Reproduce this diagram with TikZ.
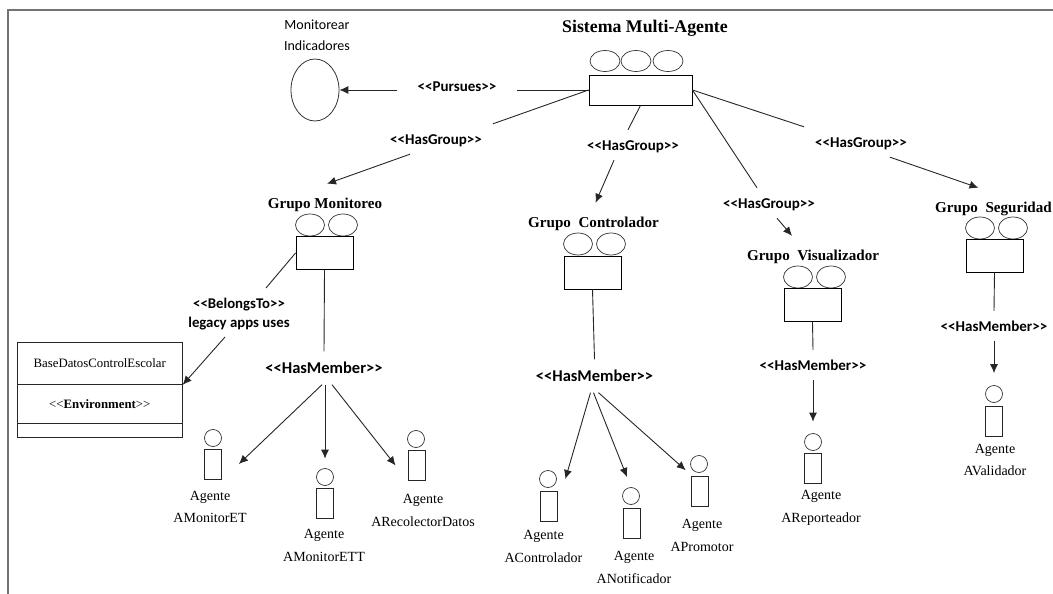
\documentclass[tikz,border=0pt]{standalone}
\usepackage{fontspec}
\setmainfont{Liberation Serif}
\setsansfont{Carlito}
\usetikzlibrary{arrows.meta,shapes.geometric}

\newcommand{\stereo}[1]{<{}<#1>{}>}

\tikzset{
  edge/.style={draw=black!85,line width=0.9pt},
  arr/.style={edge,-{Latex[length=9pt,width=8pt]}},
  frameline/.style={draw=black!55,line width=1.2pt},
  groupbox/.style={draw,line width=0.9pt,minimum width=57pt,minimum height=33pt,inner sep=0pt},
  sysbox/.style={draw,line width=0.9pt,minimum width=103pt,minimum height=30pt,inner sep=0pt},
  ball/.style={ellipse,draw=black!80,line width=0.7pt,minimum width=29pt,minimum height=22pt,inner sep=0pt},
  agentbox/.style={draw=black!85,line width=0.8pt,minimum width=17pt,minimum height=30pt,inner sep=0pt},
  agenthead/.style={circle,draw=black!80,line width=0.7pt,minimum size=17pt,inner sep=0pt},
  agenttext/.style={align=center,inner sep=0pt,font=\fontsize{14}{22.5}\selectfont},
  grouptitle/.style={font=\fontsize{15.1}{18}\bfseries\selectfont,text height=13pt,text depth=2pt,inner xsep=0pt,inner ysep=11.5pt},
  linktext/.style={font=\fontsize{15}{16}\sffamily\bfseries\selectfont,text height=12pt,text depth=1pt,inner xsep=0pt,inner ysep=8.5pt},
  linkbig/.style={linktext,font=\fontsize{16.5}{18}\sffamily\bfseries\selectfont,inner ysep=10pt},
  envbox/.style={draw=black!85,line width=0.8pt,minimum width=165pt,inner sep=0pt,font=\fontsize{12.8}{15}\selectfont}
}

\begin{document}
\begin{tikzpicture}[x=1pt,y=-1pt]
\useasboundingbox (0,0) rectangle (1053,594);
\draw[frameline] (8,594) -- (8,10) -- (1053,10);

% system and its goal
\node[grouptitle,font=\fontsize{17.8}{20}\bfseries\selectfont] (sisT) at (645,27) {Sistema Multi-Agente};
\node[ball,minimum width=30pt,minimum height=21pt] (sisA) at (605,61) {};
\node[ball,minimum width=30pt,minimum height=21pt] (sisB) at (636,61) {};
\node[ball,minimum width=30pt,minimum height=21pt] (sisC) at (668,61) {};
\node[sysbox] (sis) at (640.5,90) {};
\node[align=center,inner sep=0pt,font=\fontsize{14}{21}\sffamily\selectfont] (goalT) at (317,35.5) {Monitorear\\Indicadores};
\node[ellipse,draw=black!80,line width=0.8pt,minimum width=48pt,minimum height=62pt,inner sep=0pt] (goal) at (315,90) {};
\node[linktext,inner xsep=20pt] (pursues) at (457,86) {\stereo{Pursues}};
\draw[arr] (pursues.west |- goal.east) -- (goal.east);
\draw[edge] (sis.west) -- (pursues.east |- sis.west);

% groups
\node[grouptitle] (monT) at (325,203) {Grupo Monitoreo};
\node[ball] (monA) at (310,225) {};
\node[ball] (monB) at (343,225) {};
\node[groupbox] (mon) at (324.5,253) {};

\node[grouptitle] (ctlT) at (593.5,222) {Grupo\ \ Controlador};
\node[ball] (ctlA) at (578,244) {};
\node[ball] (ctlB) at (611,244) {};
\node[groupbox] (ctl) at (592.5,272.5) {};

\node[grouptitle] (visT) at (813,255) {Grupo\ \ Visualizador};
\node[ball] (visA) at (798,277) {};
\node[ball] (visB) at (831,277) {};
\node[groupbox] (vis) at (812.5,305) {};

\node[grouptitle] (segT) at (993.5,207) {Grupo\ \ Seguridad};
\node[ball] (segA) at (980,228) {};
\node[ball] (segB) at (1013,228) {};
\node[groupbox] (seg) at (994.5,255.5) {};

% system to groups
\node[linktext] (hgA) at (436,139) {\stereo{HasGroup}};
\node[linktext] (hgB) at (633,145) {\stereo{HasGroup}};
\node[linktext] (hgC) at (769,203) {\stereo{HasGroup}};
\node[linktext] (hgD) at (861,142) {\stereo{HasGroup}};
\draw[edge] (sis.west) -- ([xshift=57pt]hgA.north);
\draw[arr] ([xshift=-26pt]hgA.south) -- ([xshift=2pt]monT.north);
\draw[edge] (sis.south) -- ([xshift=-5pt]hgB.north);
\draw[arr] ([xshift=-19pt]hgB.south) -- ([xshift=2pt]ctlT.north);
\draw[edge] (sis.east) -- ([xshift=-12pt]hgC.north);
\draw[arr] ([xshift=8pt]hgC.south) -- ([xshift=-21pt]visT.north);
\draw[edge] (sis.east) -- ([xshift=-57pt]hgD.north);
\draw[arr] ([xshift=29pt]hgD.south) -- ([xshift=-15pt]segT.north);

% environment
\node[envbox,minimum height=42.5pt] (envA) at (99.75,363.25) {BaseDatosControlEscolar};
\node[envbox,minimum height=38.5pt] (envB) at (99.75,403.75) {<{}<\textbf{Environment}>{}>};
\node[envbox,minimum height=14pt] (envC) at (99.75,430) {};
\node[align=center,inner sep=0pt,font=\fontsize{14.8}{19}\sffamily\bfseries\selectfont] (belongs) at (239,314) {\stereo{BelongsTo}\\legacy apps uses};
\coordinate (belongsIn) at (266,288);
\coordinate (belongsOut) at (225,337);
\draw[edge] (mon.west) -- (belongsIn);
\draw[arr] (belongsOut) -- (envA.south east);

% members of Grupo Monitoreo
\node[linkbig] (hmMon) at (324,368) {\stereo{HasMember}};
\draw[edge] (mon.south) -- (hmMon.north);
\node[agenthead] (headET) at (213,438) {};
\node[agentbox] (bodyET) at (213,464) {};
\node[agenttext] (textET) at (210,507) {Agente\\AMonitorET};
\node[agenthead] (headETT) at (325,477) {};
\node[agentbox] (bodyETT) at (324.5,503.5) {};
\node[agenttext] (textETT) at (324,545.5) {Agente\\AMonitorETT};
\node[agenthead] (headRec) at (416,439) {};
\node[agentbox] (bodyRec) at (416.5,465.5) {};
\node[agenttext] (textRec) at (423,510.5) {Agente\\ARecolectorDatos};
\draw[arr] ([xshift=-2pt]hmMon.south) -- ([xshift=17pt]bodyET.east);
\draw[arr,shorten >=9.5pt] ([xshift=1pt]hmMon.south) -- (headETT.north);
\draw[arr] ([xshift=8pt]hmMon.south) -- ([xshift=-12pt]bodyRec.west);

% members of Grupo Controlador
\node[linkbig] (hmCtl) at (594.5,376) {\stereo{HasMember}};
\draw[edge] (ctl.south) -- (hmCtl.north);
\node[agenthead] (headCtl) at (548,479) {};
\node[agentbox] (bodyCtl) at (548.5,506) {};
\node[agenttext] (textCtl) at (543.5,546.5) {Agente\\AControlador};
\node[agenthead] (headNot) at (631,496) {};
\node[agentbox] (bodyNot) at (631.5,523) {};
\node[agenttext] (textNot) at (634,567.5) {Agente\\ANotificador};
\node[agenthead] (headPro) at (699,464) {};
\node[agentbox] (bodyPro) at (699.5,491) {};
\node[agenttext] (textPro) at (702,535.5) {Agente\\APromotor};
\draw[arr] ([xshift=-4pt]hmCtl.south) -- ([xshift=8.5pt]headCtl.east);
\draw[arr,shorten >=11pt] ([xshift=-1pt]hmCtl.south) -- (headNot.north);
\draw[arr] ([xshift=4pt]hmCtl.south) -- ([xshift=-7pt]headPro.south west);

% members of Grupo Visualizador
\node[linktext] (hmVis) at (813,365) {\stereo{HasMember}};
\draw[edge] (vis.south) -- (hmVis.north);
\node[agenthead] (headRep) at (813,442) {};
\node[agentbox] (bodyRep) at (813,468) {};
\node[agenttext] (textRep) at (821,508) {Agente\\AReporteador};
\draw[arr,shorten >=11.5pt] (hmVis.south) -- (headRep.north);

% members of Grupo Seguridad
\node[linktext] (hmSeg) at (994,326) {\stereo{HasMember}};
\draw[edge] (seg.south) -- (hmSeg.north);
\node[agenthead] (headVal) at (994,394) {};
\node[agentbox] (bodyVal) at (993.5,421) {};
\node[agenttext] (textVal) at (995,460) {Agente\\AValidador};
\draw[arr,shorten >=12pt] (hmSeg.south) -- (headVal.north);
\end{tikzpicture}
\end{document}
